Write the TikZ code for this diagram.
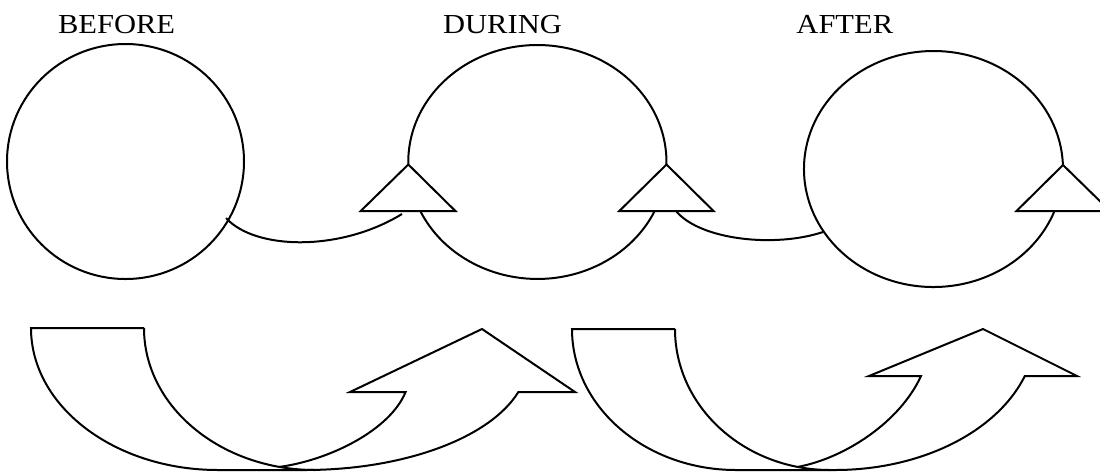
\documentclass[tikz,border=0pt]{standalone}
\usepackage{fontspec}
\setmainfont{Liberation Serif}
\usepackage{graphicx}
\begin{document}
\begin{tikzpicture}[x=1pt,y=-1pt,
  ln/.style={line width=2pt, line join=miter, line cap=butt},
  lbl/.style={anchor=base, inner sep=0pt, font=\fontsize{27.5}{30}\selectfont}]
\useasboundingbox (0,0) rectangle (1100,475);
\fill[white] (0,0) rectangle (1100,475);
\clip (0,0) rectangle (1100,475);
% labels
\node[lbl] (before) at (116.6,33) {\scalebox{1.11}[1]{BEFORE}};
\node[lbl] (during) at (502.5,33) {\scalebox{1.11}[1]{DURING}};
\node[lbl] (after) at (844.8,33) {\scalebox{1.11}[1]{AFTER}};
% circle 1
\draw[ln] (125.5,161.5) ellipse [x radius=118.5, y radius=117.5];
% circle 2
\draw[ln] (408.3,164.45) arc[start angle=178.8, end angle=361.2, x radius=129.1, y radius=117];
\draw[ln] (420.3,211) arc[start angle=155.2, end angle=24.8, x radius=129.1, y radius=117];
\draw[ln] (408.3,164.5) -- (360.7,211) -- (455.4,211) -- cycle;
\draw[ln] (666.5,164.5) -- (619.3,211) -- (713.5,211) -- cycle;
% circle 3
\draw[ln] (1062.9,165.1) arc[start angle=-1.9, end angle=-339.15, x radius=129.5, y radius=118];
\draw[ln] (1063,165) -- (1016.5,211) -- (1110,211) -- cycle;
% connectors
\coordinate (k1a) at (226,218);
\coordinate (k1b) at (402,214);
\coordinate (k2a) at (676,211);
\coordinate (k2b) at (823,232);
\draw[ln] (k1a) .. controls (255,250) and (340,252) .. (k1b);
\draw[ln] (k2a) .. controls (700,240) and (775,248) .. (k2b);
% bottom arrow 1
\draw[ln] (144,328) -- (31,328)
  arc[start angle=180, end angle=90, x radius=187, y radius=142]
  -- (305,470)
  arc[start angle=90, end angle=17, x radius=223, y radius=110]
  -- (575,392) -- (482,329) -- (350,392) -- (405.6,392)
  .. controls (390,430) and (330,460) .. (279.45,466.9);
\draw[ln] (144,328) arc[start angle=180, end angle=90, x radius=171, y radius=142];
% bottom arrow 2
\draw[ln] (675,329) -- (572,329)
  arc[start angle=180, end angle=90, x radius=164, y radius=141]
  -- (835,470)
  arc[start angle=90, end angle=19.2, x radius=201, y radius=140]
  -- (1077,376) -- (983,329) -- (869,376) -- (921,376)
  .. controls (900,422) and (845,458) .. (797.8,466.9);
\draw[ln] (675,329) arc[start angle=180, end angle=90, x radius=155, y radius=141];
\end{tikzpicture}
\end{document}
